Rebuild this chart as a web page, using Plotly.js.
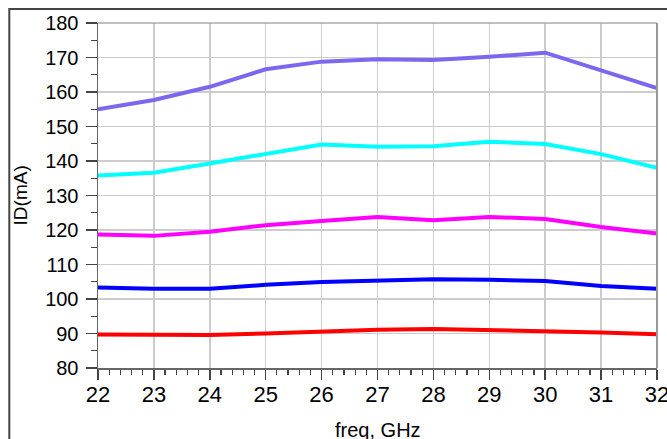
<!DOCTYPE html>
<html>
<head>
<meta charset="utf-8">
<script src="https://cdn.plot.ly/plotly-3.0.1.min.js"></script>
<style>
html,body{margin:0;padding:0;background:#fff;}
#chart{width:667px;height:439px;}
</style>
</head>
<body>
<div id="chart"></div>
<script>
const freq = [22, 23, 24, 25, 26, 27, 28, 29, 30, 31, 32];
const idPurple  = [155.0, 157.7, 161.5, 166.6, 168.8, 169.5, 169.3, 170.2, 171.4, 166.4, 161.1];
const idCyan    = [135.8, 136.6, 139.3, 142.0, 144.8, 144.1, 144.3, 145.6, 144.9, 142.0, 138.0];
const idMagenta = [118.7, 118.3, 119.5, 121.4, 122.6, 123.8, 122.8, 123.8, 123.2, 120.9, 119.0];
const idBlue    = [103.3, 103.0, 103.0, 104.1, 104.9, 105.4, 105.7, 105.6, 105.2, 103.8, 103.0];
const idRed     = [89.7, 89.7, 89.6, 90.0, 90.6, 91.1, 91.3, 91.0, 90.6, 90.3, 89.8];
const xTitle = 'freq, GHz';
const yTitle = 'ID(mA)';

const series = [
  {y: idPurple, color: '#7B68EE'},
  {y: idCyan, color: '#00FFFF'},
  {y: idMagenta, color: '#FF00FF'},
  {y: idBlue, color: '#0000FF'},
  {y: idRed, color: '#FF0000'}
];

const traces = series.map(s => ({
  x: freq, y: s.y, type: 'scatter', mode: 'lines',
  line: {color: s.color, width: 4}, showlegend: false, hoverinfo: 'none', cliponaxis: true
}));

const L = 97.7, R = 10.3, T = 23, B = 71.3;
const W = 667, H = 439;
const pw = W - L - R, ph = H - T - B;

const layout = {
  width: W, height: H,
  margin: {l: L, r: R, t: T, b: B, pad: 0},
  paper_bgcolor: '#fff', plot_bgcolor: '#fff',
  font: {family: 'Liberation Sans, Arial, sans-serif', color: '#000'},
  showlegend: false,
  xaxis: {
    range: [22, 32], dtick: 1, tick0: 22,
    showgrid: true, gridcolor: '#cccccc', gridwidth: 1.5,
    zeroline: false,
    showline: true, linecolor: '#666', linewidth: 1.5,
    ticks: 'outside', ticklen: 10, tickwidth: 1.5, tickcolor: '#444',
    tickfont: {size: 22, color: '#000'},
    ticklabeloverflow: 'allow',
    ticklabelstandoff: -4,
    minor: {dtick: 0.2, ticks: 'outside', ticklen: 5, tickwidth: 1.2, tickcolor: '#444', showgrid: false},
    fixedrange: true
  },
  yaxis: {
    range: [80, 180], dtick: 10, tick0: 80,
    showgrid: true, gridcolor: '#cccccc', gridwidth: 1.5,
    zeroline: false,
    showline: true, linecolor: '#666', linewidth: 1.5,
    ticks: 'outside', ticklen: 11, tickwidth: 1.5, tickcolor: '#444',
    tickfont: {size: 20, color: '#000'},
    ticklabelstandoff: 3,
    minor: {dtick: 5, ticks: 'outside', ticklen: 6, tickwidth: 1.2, tickcolor: '#444', showgrid: false},
    fixedrange: true
  },
  annotations: [
    {text: xTitle, xref: 'paper', yref: 'paper', x: (378 - L) / pw, y: (367.7 - 430) / ph,
     xanchor: 'center', yanchor: 'middle', showarrow: false, font: {size: 20, color: '#000'}},
    {text: yTitle, xref: 'paper', yref: 'paper', x: (20 - L) / pw, y: (367.7 - 195) / ph,
     xanchor: 'center', yanchor: 'middle', textangle: -90, showarrow: false, font: {size: 19, color: '#000'}}
  ],
  shapes: [
    {type: 'line', xref: 'paper', yref: 'paper', x0: 0, x1: 1, y0: 1, y1: 1, line: {color: '#aaa', width: 1.5}},
    {type: 'line', xref: 'paper', yref: 'paper', x0: 1, x1: 1, y0: 0, y1: 1, line: {color: '#999', width: 2}},
    {type: 'rect', xref: 'paper', yref: 'paper',
     x0: (9 - L) / pw, x1: (W + 20 - L) / pw,
     y0: -(B + 20) / ph, y1: 1 + (T - 9) / ph,
     line: {color: '#444', width: 2}, fillcolor: 'rgba(0,0,0,0)'}
  ]
};

Plotly.newPlot('chart', traces, layout, {staticPlot: true, displayModeBar: false});
</script>
</body>
</html>
